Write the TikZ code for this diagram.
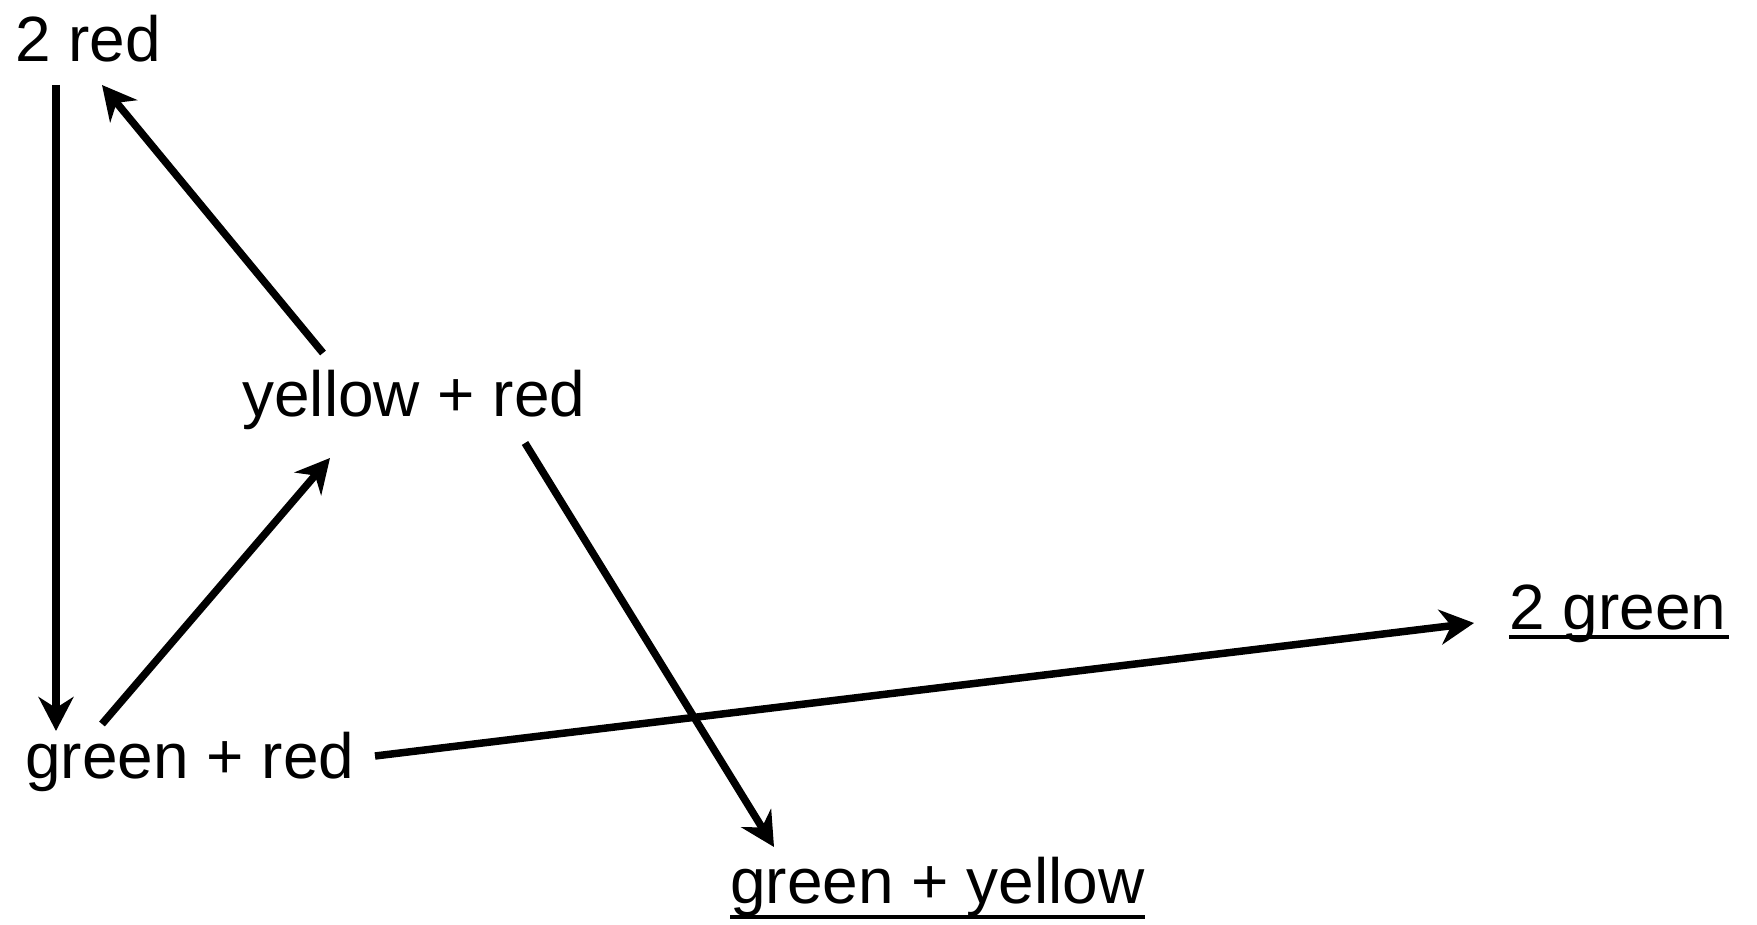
\documentclass[tikz,border=0pt]{standalone}
\usepackage{fontspec}
\setmainfont{Liberation Sans}
\usepackage{tikz}
\usetikzlibrary{arrows.meta}
\tikzset{
  lbl/.style  ={inner sep=0pt, anchor=base west, font=\fontsize{36.4pt}{44pt}\selectfont},
  ar/.style   ={-{Stealth[length=0.68cm, width=0.7cm, inset=0.22cm]}, line width=0.15cm},
  uline/.style={line width=0.08cm}
}
\begin{document}
\begin{tikzpicture}[x=0.02cm, y=-0.02cm]
\useasboundingbox (0,0) rectangle (1757,925);

\node[lbl] (red2)   at (15,62)    {2 red};
\node[lbl] (ylwred) at (242,417)  {yellow + red};
\node[lbl] (grnred) at (25,778)   {green + red};
\node[lbl] (grn2)   at (1509,629) {2 green};
\node[lbl] (grnylw) at (730,903)  {green + yellow};

% final states are underlined
\draw[uline] ([shift={(0,8)}]grn2.base west) -- ([shift={(2,8)}]grn2.base east);
\draw[uline] ([shift={(0,14)}]grnylw.base west) -- ([shift={(0,14)}]grnylw.base east);

\draw[ar] ([shift={(41,23)}]red2.base west) -- ([shift={(31,-47)}]grnred.base west);
\draw[ar] ([shift={(77,-54)}]grnred.base west) -- ([shift={(88,41)}]ylwred.base west);
\draw[ar] ([shift={(81,-64)}]ylwred.base west) -- ([shift={(87,23)}]red2.base west);
\draw[ar] ([shift={(283,26)}]ylwred.base west) -- ([shift={(44,-56)}]grnylw.base west);
\draw[ar] ([shift={(350,-22)}]grnred.base west) -- ([shift={(-35,-6)}]grn2.base west);
\end{tikzpicture}
\end{document}
